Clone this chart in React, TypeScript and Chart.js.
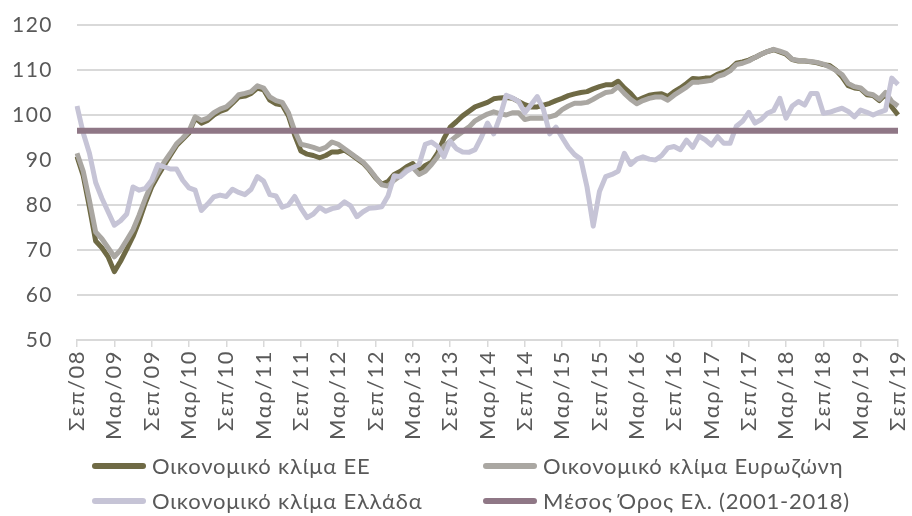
import React, { useEffect, useRef } from "react";
import { Chart, registerables } from "chart.js";

Chart.register(...registerables);

// Month labels (Greek abbreviations), Sep 2008 .. Sep 2019
const MONTHS = ["Ιαν", "Φεβ", "Μαρ", "Απρ", "Μαϊ", "Ιουν", "Ιουλ", "Αυγ", "Σεπ", "Οκτ", "Νοε", "Δεκ"];
const START_YEAR = 2008;
const START_MONTH = 8; // September (0-based)
const N_MONTHS = 133;
const TICK_EVERY = 6;

const labels: string[] = Array.from({ length: N_MONTHS }, (_, i) => {
  const m = (START_MONTH + i) % 12;
  const y = START_YEAR + Math.floor((START_MONTH + i) / 12);
  return `${MONTHS[m]}/${String(y % 100).padStart(2, "0")}`;
});

const seriesNames = [
  "Οικονομικό κλίμα ΕΕ",
  "Οικονομικό κλίμα Ευρωζώνη",
  "Οικονομικό κλίμα Ελλάδα",
  "Μέσος Όρος Ελ. (2001-2018)",
];

const euClimate = [
  90.8, 86.5, 79.5, 72, 70.5, 68.5, 65.2, 67.5, 70.2, 73, 76.5, 80.5,
  84, 86.5, 88.8, 91, 93.2, 94.6, 96, 99.3, 98.2, 98.8, 100, 100.8,
  101.3, 102.6, 104, 104.2, 104.8, 106, 105.6, 103.3, 102.5, 102.2, 99.8, 95.5,
  92, 91.3, 91, 90.5, 91, 91.8, 91.8, 92.2, 91.3, 90.3, 89.3, 87.8,
  86, 84.6, 85.2, 86.8, 87.5, 88.5, 89.2, 87.6, 88.8, 89.5, 91.6, 94.8,
  97.3, 98.5, 99.8, 100.8, 101.8, 102.3, 102.8, 103.6, 103.8, 103.9, 103.7, 103,
  102.3, 101.8, 101.8, 102.2, 102.6, 103.2, 103.7, 104.3, 104.7, 105, 105.2, 105.8,
  106.3, 106.7, 106.7, 107.5, 106, 104.8, 103.2, 103.8, 104.4, 104.6, 104.7, 104.1,
  105.2, 106, 107, 108.1, 108, 108.2, 108.3, 109.1, 109.5, 110.2, 111.5, 111.8,
  112.2, 112.8, 113.5, 114.1, 114.5, 114, 113.5, 112.3, 112, 112, 111.8, 111.6,
  111.2, 111, 110, 108.5, 106.5, 106, 105.8, 104.5, 104.3, 103.2, 104.6, 101.8,
  100,
];

const euroAreaClimate = [
  91.5, 87.5, 81, 74, 72.5, 70.5, 68.5, 70, 72.2, 74.5, 77.8, 81.5,
  84.8, 87.2, 89.5, 91.5, 93.6, 94.9, 96.4, 99.6, 98.8, 99.3, 100.5, 101.3,
  101.8, 103, 104.5, 104.8, 105.2, 106.5, 106, 104, 103.2, 102.8, 100.5, 96.5,
  93.5, 93.2, 92.8, 92.3, 92.8, 94, 93.5, 92.5, 91.5, 90.5, 89.5, 88,
  86.2, 84.5, 84.2, 85.5, 86.5, 87.8, 88.3, 86.8, 87.5, 89, 90.8, 93,
  94.2, 95.3, 96.3, 97.3, 98.7, 99.5, 100.2, 100.7, 100.3, 100, 100.5, 100.5,
  99, 99.3, 99.3, 99.3, 99.6, 100, 101.2, 102, 102.6, 102.6, 102.8, 103.5,
  104.3, 105, 105.2, 106.3, 104.8, 103.5, 102.5, 103.2, 103.7, 104, 104, 103.3,
  104.4, 105.3, 106.2, 107.3, 107.3, 107.5, 107.7, 108.6, 109, 109.8, 111.2, 111.5,
  112, 112.8, 113.5, 114.1, 114.6, 114.2, 113.7, 112.4, 112.1, 112, 111.9, 111.7,
  111.3, 110.7, 109.9, 109, 107, 106.3, 106, 104.8, 104.5, 103.5, 105, 103,
  102,
];

const greeceClimate = [
  102, 96, 91.5, 85, 81.5, 78.5, 75.5, 76.5, 78, 84, 83.3, 83.7,
  85.5, 89, 88.5, 88, 88, 85.5, 83.8, 83.3, 78.8, 80.2, 81.8, 82.2,
  81.9, 83.5, 82.8, 82.3, 83.5, 86.3, 85.3, 82.3, 82, 79.5, 80, 81.9,
  79.3, 77.2, 78, 79.5, 78.6, 79.2, 79.5, 80.7, 79.8, 77.4, 78.5, 79.3,
  79.4, 79.6, 82, 86.5, 86.3, 87.5, 88.3, 89, 93.5, 94, 93, 90.7,
  94.2, 92.5, 91.8, 91.7, 92.3, 95, 98.2, 95.8, 99.6, 104.4, 103.8, 103,
  100.5, 102.3, 104.1, 101.2, 95.8, 97.3, 95, 92.8, 91.2, 90.2, 84, 75.3,
  83, 86.3, 86.8, 87.5, 91.5, 89, 90.2, 90.7, 90.2, 90, 91, 92.7,
  93, 92.3, 94.4, 92.8, 95.3, 94.5, 93.3, 95.2, 93.7, 93.7, 97.5, 98.6,
  100.6, 98.2, 99, 100.4, 101, 103.7, 99.3, 102, 103, 102.2, 104.8, 104.8,
  100.4, 100.6, 101.1, 101.5, 100.8, 99.6, 101.1, 100.6, 100, 100.6, 101.1, 108.2,
  106.8,
];

const greeceLongRunMean = 96.5;

const colors = ["#6f6a45", "#aaa7a2", "#c6c4d6", "#8f7786"];

const FONT = "Lato, 'Open Sans', 'DejaVu Sans', sans-serif";
const TEXT_COLOR = "#595959";
const GRID_COLOR = "#d9d9d9";

const letterSpacingPlugin = {
  id: "letterSpacing",
  beforeDraw(chart: any) {
    chart.ctx.letterSpacing = "1.5px";
  },
};

export default function App() {
  const canvasRef = useRef<HTMLCanvasElement | null>(null);

  useEffect(() => {
    document.body.style.margin = "0";
    const canvas = canvasRef.current;
    if (!canvas) return;
    const chart = new Chart(canvas, {
      type: "line",
      data: {
        labels,
        datasets: [
          {
            label: seriesNames[3],
            data: labels.map(() => greeceLongRunMean),
            borderColor: colors[3],
            borderWidth: 6,
            pointRadius: 0,
            order: 0,
          },
          {
            label: seriesNames[2],
            data: greeceClimate,
            borderColor: colors[2],
            borderWidth: 5,
            pointRadius: 0,
            order: 1,
          },
          {
            label: seriesNames[1],
            data: euroAreaClimate,
            borderColor: colors[1],
            borderWidth: 5,
            pointRadius: 0,
            order: 2,
          },
          {
            label: seriesNames[0],
            data: euClimate,
            borderColor: colors[0],
            borderWidth: 5,
            pointRadius: 0,
            order: 3,
          },
        ],
      },
      plugins: [letterSpacingPlugin],
      options: {
        animation: false,
        responsive: false,
        maintainAspectRatio: false,
        layout: { padding: { left: 0, right: 14, top: 25, bottom: 0 } },
        elements: { line: { tension: 0, borderJoinStyle: "round", borderCapStyle: "butt" } },
        plugins: { legend: { display: false }, tooltip: { enabled: false } },
        scales: {
          x: {
            type: "category",
            offset: false,
            afterFit: (scale: any) => {
              scale.height = 176;
              scale.paddingLeft = 0;
              scale.paddingRight = 0;
            },
            grid: {
              drawOnChartArea: false,
              drawTicks: true,
              tickLength: 7,
              color: (ctx: any) => (ctx.index % TICK_EVERY === 0 ? GRID_COLOR : "rgba(0,0,0,0)"),
              lineWidth: 1.5,
            },
            border: { display: true, color: GRID_COLOR, width: 2 },
            ticks: {
              autoSkip: false,
              minRotation: 90,
              maxRotation: 90,
              padding: 3,
              color: TEXT_COLOR,
              font: { family: FONT, size: 22 },
              callback: (_v: any, idx: number) => (idx % TICK_EVERY === 0 ? labels[idx] : ""),
            },
          },
          y: {
            min: 50,
            max: 120,
            afterFit: (scale: any) => {
              scale.width = 77;
              scale.paddingTop = 0;
              scale.paddingBottom = 0;
            },
            grid: { color: GRID_COLOR, lineWidth: 2, drawTicks: false },
            border: { display: false },
            ticks: {
              stepSize: 10,
              padding: 24,
              color: TEXT_COLOR,
              font: { family: FONT, size: 21 },
            },
          },
        },
      },
    });
    return () => chart.destroy();
  }, []);

  const legendItems = [0, 1, 2, 3];
  return (
    <div style={{ position: "fixed", left: 0, top: 0, width: 912, height: 516, background: "#fff" }}>
      <canvas ref={canvasRef} width={912} height={516} style={{ display: "block" }} />
      <div
        style={{
          position: "absolute",
          left: 92,
          top: 450,
          width: 810,
          display: "grid",
          gridTemplateColumns: "391px 410px",
          rowGap: 4,
          fontFamily: FONT,
          fontSize: 22,
          letterSpacing: "0.8px",
          color: TEXT_COLOR,
        }}
      >
        {legendItems.map((i) => (
          <div key={i} style={{ display: "flex", alignItems: "center", height: 31, whiteSpace: "nowrap" }}>
            <span
              style={{
                display: "inline-block",
                width: 54,
                height: 6,
                background: colors[i],
                borderRadius: 3,
                marginRight: 6,
              }}
            />
            <span>{seriesNames[i]}</span>
          </div>
        ))}
      </div>
    </div>
  );
}
